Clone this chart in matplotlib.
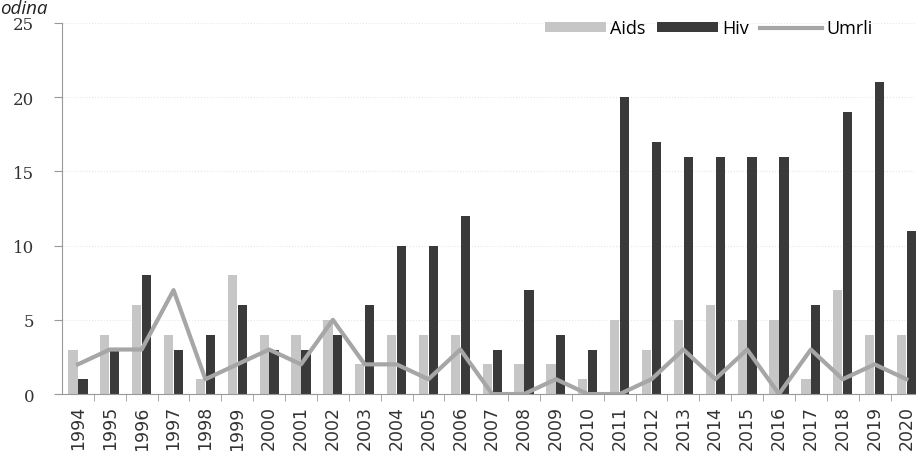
import matplotlib
matplotlib.use('Agg')
import matplotlib.pyplot as plt
import numpy as np

years = [str(y) for y in range(1994, 2021)]
aids = [3, 4, 6, 4, 1, 8, 4, 4, 5, 2, 4, 4, 4, 2, 2, 2, 1, 5, 3, 5, 6, 5, 5, 1, 7, 4, 4]
hiv = [1, 3, 8, 3, 4, 6, 3, 3, 4, 6, 10, 10, 12, 3, 7, 4, 3, 20, 17, 16, 16, 16, 16, 6, 19, 21, 11]
umrli = [2, 3, 3, 7, 1, 2, 3, 2, 5, 2, 2, 1, 3, 0, 0, 1, 0, 0, 1, 3, 1, 3, 0, 3, 1, 2, 1]

fig = plt.figure(figsize=(9.16, 4.52), dpi=100)
ax = fig.add_axes([0.0677, 0.126, 0.9323, 0.821])

x = np.arange(len(years))
w = 0.29
b1 = ax.bar(x - 0.155, aids, w, color='#c6c6c6', label='Aids', zorder=2)
b2 = ax.bar(x + 0.155, hiv, w, color='#3a3a3a', label='Hiv', zorder=2)
l1, = ax.plot(x, umrli, color='#a6a6a6', lw=3, label='Umrli', zorder=3)

ax.set_xlim(-0.5, 26.3)
ax.set_ylim(0, 25)
ax.set_yticks([0, 5, 10, 15, 20, 25])
ax.set_xticks(x)
ax.set_xticklabels(years, rotation=90, family='DejaVu Sans', fontsize=12.5, color='#333333')
ax.set_xticks(x[:-1] + 0.5, minor=True)
ax.tick_params(axis='x', which='major', length=0, pad=8)
ax.tick_params(axis='x', which='minor', length=5, color='#999999')
ax.tick_params(axis='y', length=6, pad=14, color='#999999', labelcolor='#333333')
for lab in ax.get_yticklabels():
    lab.set_family('DejaVu Serif')
    lab.set_fontsize(12)

ax.grid(axis='y', color='#e6e6e6', lw=0.8, ls=':', zorder=0)
for s in ['top', 'right']:
    ax.spines[s].set_visible(False)
ax.spines['left'].set_color('#999999')
ax.spines['bottom'].set_color('#999999')

# legend across the top right, same order as the source
fig.legend([b1, b2, l1], ['Aids', 'Hiv', 'Umrli'], loc='center right',
           bbox_to_anchor=(0.97, 0.935), ncol=3, frameon=False,
           handlelength=3.4, handleheight=0.5, handletextpad=0.25, columnspacing=0.6,
           prop={'family': 'Open Sans', 'size': 13})

fig.text(0.0, 1.0, 'odina', style='italic', fontsize=13.5, family='Open Sans',
         color='#222222', va='top', ha='left')

fig.savefig('out.png', dpi=100)
